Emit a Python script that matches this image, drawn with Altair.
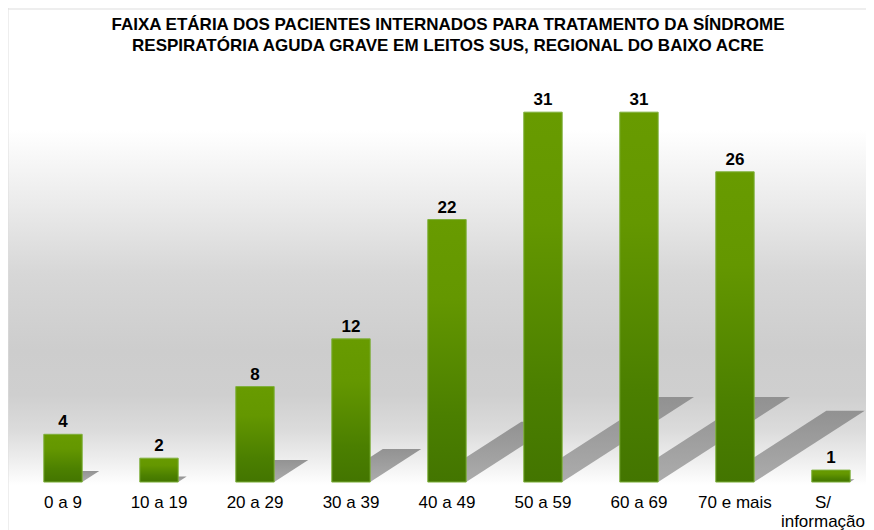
import altair as alt
import pandas as pd

# ---- data ----
categories = ["0 a 9", "10 a 19", "20 a 29", "30 a 39", "40 a 49",
              "50 a 59", "60 a 69", "70 e mais", "S/\ninformação"]
values = [4, 2, 8, 12, 22, 31, 31, 26, 1]
title_lines = [
    "FAIXA ETÁRIA DOS PACIENTES INTERNADOS PARA TRATAMENTO DA SÍNDROME",
    "RESPIRATÓRIA AGUDA GRAVE EM LEITOS SUS, REGIONAL DO BAIXO ACRE",
]

FONT = "Liberation Sans, Arial, Helvetica, sans-serif"
HALF = 0.2            # half bar width in category units
SHADOW_RISE = 0.23    # shadow height as share of bar value
SHADOW_RUN = 0.0443   # shadow horizontal shift per unit of value

idx = list(range(len(categories)))
bars = pd.DataFrame({"idx": idx, "cat": categories, "value": values})
bars["x0"] = bars["idx"] - HALF
bars["x1"] = bars["idx"] + HALF

rows = []
for i, c, v in zip(idx, categories, values):
    rows.append({"cat": c, "sy": 0.0, "sx": i - HALF, "sx2": i + HALF})
    rows.append({"cat": c, "sy": SHADOW_RISE * v,
                 "sx": i - HALF + SHADOW_RUN * v, "sx2": i + HALF + SHADOW_RUN * v})
shadows = pd.DataFrame(rows)

W, H = 858, 522
xs = alt.Scale(domain=[-0.573, 8.365], nice=False, zero=False)
ys = alt.Scale(domain=[-4.02, 39.73], nice=False, zero=False)

bg_grad = alt.Gradient(
    gradient="linear", x1=0, y1=0, x2=0, y2=1,
    stops=[
        alt.GradientStop(offset=0.0, color="#ffffff"),
        alt.GradientStop(offset=0.234, color="#ffffff"),
        alt.GradientStop(offset=0.381, color="#eaeaea"),
        alt.GradientStop(offset=0.508, color="#d7d7d7"),
        alt.GradientStop(offset=0.655, color="#cdcdcd"),
        alt.GradientStop(offset=0.741, color="#cfcfcf"),
        alt.GradientStop(offset=0.808, color="#dbdbdb"),
        alt.GradientStop(offset=0.866, color="#eeeeee"),
        alt.GradientStop(offset=0.914, color="#ffffff"),
        alt.GradientStop(offset=1.0, color="#ffffff"),
    ],
)
bar_grad = alt.Gradient(
    gradient="linear", x1=0, y1=0, x2=0, y2=1,
    stops=[
        alt.GradientStop(offset=0.0, color="#689b00"),
        alt.GradientStop(offset=0.3, color="#649700"),
        alt.GradientStop(offset=0.75, color="#4b7f00"),
        alt.GradientStop(offset=1.0, color="#437500"),
    ],
)
shadow_grad = alt.Gradient(
    gradient="linear", x1=0, y1=0, x2=0, y2=1,
    stops=[
        alt.GradientStop(offset=0.0, color="#8e8e8e"),
        alt.GradientStop(offset=1.0, color="#a8a8a8"),
    ],
)

one = pd.DataFrame({"a": [0]})
background = alt.Chart(one).mark_rect(color=bg_grad).encode(
    x=alt.value(0), x2=alt.value("width"), y=alt.value(0), y2=alt.value("height")
)
frame_left = alt.Chart(one).mark_rule(color="#dddddd", strokeWidth=1).encode(
    x=alt.value(0), y=alt.value(0), y2=alt.value("height")
)
frame_top = alt.Chart(one).mark_rule(color="#dddddd", strokeWidth=1).encode(
    x=alt.value(0), x2=alt.value("width"), y=alt.value(1)
)

shadow = alt.Chart(shadows).mark_area(
    orient="horizontal", color=shadow_grad, opacity=0.95
).encode(
    y=alt.Y("sy:Q", scale=ys, axis=None),
    x=alt.X("sx:Q", scale=xs, axis=None, stack=None),
    x2="sx2:Q",
    detail="cat:N",
)

bar = alt.Chart(bars).mark_bar(
    color=bar_grad, stroke="#7fb03c", strokeWidth=1
).encode(
    x=alt.X("x0:Q", scale=xs, axis=None),
    x2="x1:Q",
    y=alt.Y("value:Q", scale=ys, axis=None),
    y2=alt.datum(0),
)

value_text = alt.Chart(bars).mark_text(
    font=FONT, fontSize=17, fontWeight="bold", color="#000000",
    baseline="alphabetic", dy=-7
).encode(
    x=alt.X("idx:Q", scale=xs, axis=None),
    y=alt.Y("value:Q", scale=ys, axis=None),
    text="value:Q",
)

last_cat = categories[-1]
cat_text = alt.Chart(bars).transform_filter(
    alt.datum.cat != last_cat
).mark_text(
    font=FONT, fontSize=17, color="#000000",
    baseline="alphabetic", dy=26, lineBreak="\n", lineHeight=19
).encode(
    x=alt.X("idx:Q", scale=xs, axis=None),
    y=alt.datum(0, scale=ys),
    text="cat:N",
)
# the last label is nudged left so that it stays inside the canvas
cat_text_last = alt.Chart(bars).transform_filter(
    alt.datum.cat == last_cat
).mark_text(
    font=FONT, fontSize=17, color="#000000",
    baseline="alphabetic", dy=26, dx=-8, lineBreak="\n", lineHeight=19
).encode(
    x=alt.X("idx:Q", scale=xs, axis=None),
    y=alt.datum(0, scale=ys),
    text="cat:N",
)

chart = alt.layer(
    background, frame_left, frame_top, shadow, bar, value_text,
    cat_text, cat_text_last
).properties(
    width=W, height=H,
    autosize=alt.AutoSizeParams(type="none"),
    padding=0,
    title=alt.TitleParams(
        text=title_lines, anchor="middle", frame="group",
        font=FONT, fontSize=17, fontWeight="bold", color="#000000",
        baseline="top", offset=0, dy=47, dx=11, lineHeight=21,
    ),
).configure_view(stroke=None)

chart.save("out.html", embed_options={"renderer": "svg", "actions": False})
